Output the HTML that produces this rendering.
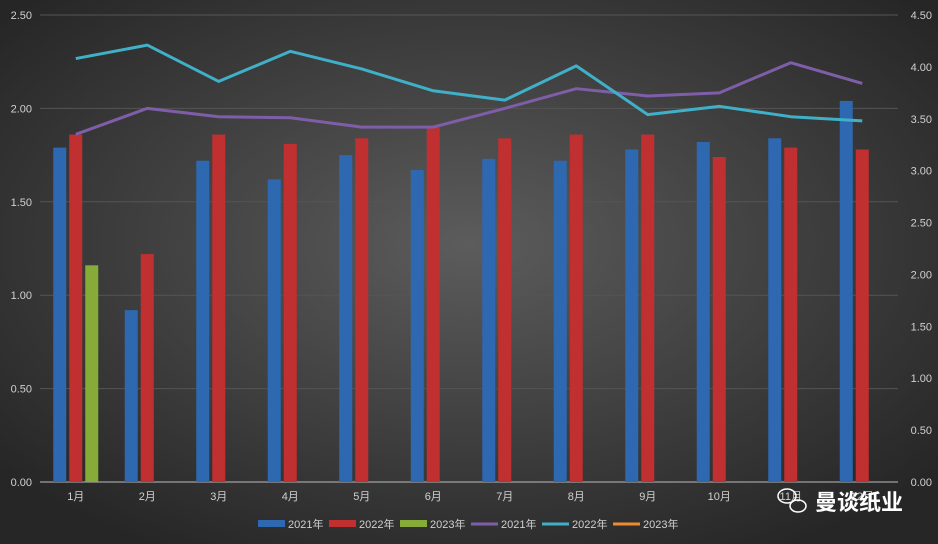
<!DOCTYPE html>
<html><head><meta charset="utf-8"><style>
body{margin:0;width:938px;height:544px;overflow:hidden;background:#333}
svg{display:block}
text{font-family:"Liberation Sans","Noto Sans CJK SC",sans-serif;fill:#d0d0d0;font-size:11px}
</style></head><body>
<svg id="chart" width="938" height="544">
<defs><radialGradient id="bg" cx="50%" cy="45%" r="65%"><stop offset="0" stop-color="#5c5c5c"/><stop offset="1" stop-color="#262626"/></radialGradient></defs>
<rect width="938" height="544" fill="url(#bg)"/>
<g id="grid"></g><g id="bars"></g><g id="lines"></g><g id="axes"></g>
<g id="legend"></g>
<g>
<ellipse cx="787" cy="496" rx="9" ry="7" fill="none" stroke="#fff" stroke-width="1.5"/>
<ellipse cx="798" cy="506" rx="8" ry="6" fill="none" stroke="#fff" stroke-width="1.5"/>
<text x="815" y="510" style="font-size:22px;fill:#fff;font-weight:bold">曼谈纸业</text>
</g>
</svg>
<script>
const categories=["1月","2月","3月","4月","5月","6月","7月","8月","9月","10月","11月","12月"];
const bar2021=[1.79,0.92,1.72,1.62,1.75,1.67,1.73,1.72,1.78,1.82,1.84,2.04];
const bar2022=[1.86,1.22,1.86,1.81,1.84,1.90,1.84,1.86,1.86,1.74,1.79,1.78];
const bar2023=[1.16,null,null,null,null,null,null,null,null,null,null,null];
const line2021=[3.35,3.60,3.52,3.51,3.42,3.42,3.60,3.79,3.72,3.75,4.04,3.84];
const line2022=[4.08,4.21,3.86,4.15,3.98,3.77,3.68,4.01,3.54,3.62,3.52,3.48];
const line2023=[];
const leftTicks=["0.00","0.50","1.00","1.50","2.00","2.50"];
const rightTicks=["0.00","0.50","1.00","1.50","2.00","2.50","3.00","3.50","4.00","4.50"];
const NS="http://www.w3.org/2000/svg";
const L=40,R=898,T=15,B=482;
const yL=v=>B-(v/2.5)*(B-T), yR=v=>B-(v/4.5)*(B-T);
const xC=i=>L+(i+0.5)*(R-L)/categories.length;
function mk(p,tag,a){const e=document.createElementNS(NS,tag);for(const k in a)e.setAttribute(k,a[k]);document.getElementById(p).appendChild(e);return e;}
leftTicks.forEach(t=>{const y=yL(+t);
 const g=mk('grid','line',{x1:L,x2:R,y1:y,y2:y,stroke:+t?'#555':'#bbb','stroke-width':1});
 
 
 const tx=mk('axes','text',{x:32,y:y+4,'text-anchor':'end'});tx.textContent=t;
 
 });
rightTicks.forEach(t=>{const tx=mk('axes','text',{x:932,y:yR(+t)+4,'text-anchor':'end'});tx.textContent=t;
 
 });
categories.forEach((c,i)=>{const tx=mk('axes','text',{x:xC(i),y:500,'text-anchor':'middle'});tx.textContent=c;
 
 });
const series=[[bar2021,'#2e68b0',-16,'bar-2021'],[bar2022,'#c03030',0,'bar-2022'],[bar2023,'#86ab38',16,'bar-2023']];
series.forEach(([d,col,off,nm])=>d.forEach((v,i)=>{if(v==null)return;
 const r=mk('bars','rect',{x:xC(i)+off-6.5,y:yL(v),width:13,height:B-yL(v),fill:col});
 
 }));
[[line2021,'#7e5ea8','line-2021'],[line2022,'#3fb0c8','line-2022'],[line2023,'#f08a30','line-2023']].forEach(([d,col,nm])=>{
 if(!d.length)return;
 const p=mk('lines','polyline',{points:d.map((v,i)=>xC(i)+','+yR(v)).join(' '),fill:'none',stroke:col,'stroke-width':3,'stroke-linejoin':'round'});
 
 });
const leg=[['2021年','#2e68b0',1],['2022年','#c03030',1],['2023年','#86ab38',1],['2021年','#7e5ea8',0],['2022年','#3fb0c8',0],['2023年','#f08a30',0]];
let lx=258;
leg.forEach(([t,c,b])=>{
 const s=b?mk('legend','rect',{x:lx,y:520,width:27,height:7,fill:c}):mk('legend','line',{x1:lx,x2:lx+27,y1:524,y2:524,stroke:c,'stroke-width':3});
 
 
 const tx=mk('legend','text',{x:lx+30,y:528});tx.textContent=t;
 
 
 lx+=71;});
</script>
</body></html>
